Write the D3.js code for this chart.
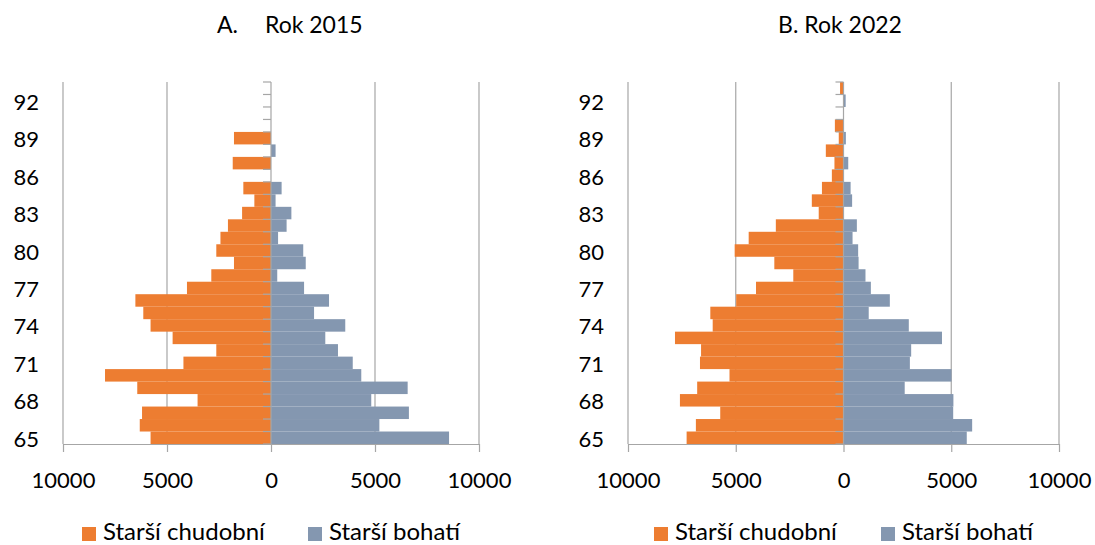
<!DOCTYPE html>
<html>
<head>
<meta charset="utf-8">
<script src="https://cdn.jsdelivr.net/npm/d3@7"></script>
<style>
  html, body { margin: 0; padding: 0; background: #fff; }
  svg { display: block; font-family: Lato, "Open Sans", sans-serif; }
</style>
</head>
<body>
<svg id="chart" width="1095" height="545"></svg>
<script>
// ---- Data ----
const ages = [65, 66, 67, 68, 69, 70, 71, 72, 73, 74, 75, 76, 77, 78, 79,
              80, 81, 82, 83, 84, 85, 86, 87, 88, 89, 90, 91, 92, 93];
const ageLabels = [65, 68, 71, 74, 77, 80, 83, 86, 89, 92];
const xTicks = [-10000, -5000, 0, 5000, 10000];
const seriesNames = ["Starší chudobní", "Starší bohatí"];
const panelTitles = ["A.", "Rok 2015", "B. Rok 2022"];

const poor2015 = [5790, 6310, 6200, 3530, 6430, 7980, 4210, 2630, 4730, 5790,
                  6140, 6520, 4040, 2870, 1780, 2630, 2430, 2070, 1390, 800,
                  1330, 0, 1840, 0, 1780, 0, 0, 0, 0];
const rich2015 = [8560, 5210, 6630, 4820, 6570, 4340, 3930, 3220, 2610, 3570,
                  2070, 2790, 1590, 300, 1670, 1550, 340, 750, 980, 220,
                  510, 0, 0, 220, 0, 0, 0, 0, 0];
const poor2022 = [7280, 6850, 5720, 7590, 6790, 5290, 6660, 6610, 7820, 6070,
                  6180, 4980, 4060, 2330, 3210, 5050, 4400, 3140, 1150, 1470,
                  1000, 540, 420, 820, 220, 400, 0, 0, 160];
const rich2022 = [5720, 5970, 5090, 5100, 2840, 5010, 3080, 3140, 4570, 3030,
                  1170, 2150, 1270, 1020, 700, 680, 420, 620, 0, 400,
                  330, 0, 220, 0, 110, 0, 0, 100, 0];

// ---- Styles ----
const COLORS = ["#ED7D31", "#8497B0"];
const GRID = "#A6A6A6";
const FONT = 22;

const svg = d3.select("#chart");

const panels = [
  { poor: poor2015, rich: rich2015, x0: 63, x1: 479 },
  { poor: poor2022, rich: rich2022, x0: 628, x1: 1059 }
];
const plotTop = 82, plotBottom = 444;

const y = d3.scaleBand()
  .domain(ages.slice().reverse())
  .range([plotTop, plotBottom])
  .padding(0);

panels.forEach((p, pi) => {
  const g = svg.append("g");
  const x = d3.scaleLinear().domain([-10000, 10000]).range([p.x0, p.x1]);

  // vertical gridlines (non-zero)
  g.selectAll("line.grid")
    .data(xTicks.filter(d => d !== 0))
    .join("line")
    .attr("class", "grid")
    .attr("x1", d => x(d)).attr("x2", d => x(d))
    .attr("y1", plotTop).attr("y2", plotBottom)
    .attr("stroke", GRID).attr("stroke-width", 1.2);

  // bars - poor (left)
  g.selectAll("rect.poor")
    .data(ages.map((a, i) => ({ age: a, v: p.poor[i] })).filter(d => d.v > 0))
    .join("rect")
    .attr("class", "poor")
    .attr("x", d => x(-d.v))
    .attr("width", d => x(0) - x(-d.v))
    .attr("y", d => y(d.age))
    .attr("height", y.bandwidth())
    .attr("fill", COLORS[0]);

  // bars - rich (right)
  g.selectAll("rect.rich")
    .data(ages.map((a, i) => ({ age: a, v: p.rich[i] })).filter(d => d.v > 0))
    .join("rect")
    .attr("class", "rich")
    .attr("x", x(0))
    .attr("width", d => x(d.v) - x(0))
    .attr("y", d => y(d.age))
    .attr("height", y.bandwidth())
    .attr("fill", COLORS[1]);

  // vertical axis at zero with ticks at band boundaries
  g.append("line")
    .attr("x1", x(0)).attr("x2", x(0))
    .attr("y1", plotTop).attr("y2", plotBottom)
    .attr("stroke", GRID).attr("stroke-width", 1.2);
  const boundaries = ages.map(a => y(a)).concat([plotBottom]);
  g.selectAll("line.ytick")
    .data(boundaries)
    .join("line")
    .attr("class", "ytick")
    .attr("x1", x(0) - 8).attr("x2", x(0))
    .attr("y1", d => d).attr("y2", d => d)
    .attr("stroke", GRID).attr("stroke-width", 1.2);

  // y labels
  g.selectAll("text.ylab")
    .data(ageLabels)
    .join("text")
    .attr("class", "ylab")
    .attr("x", p.x0 - 24)
    .attr("y", d => y(d) + y.bandwidth() / 2 + 9)
    .attr("text-anchor", "end")
    .attr("font-size", FONT)
    .attr("fill", "#000")
    .text(d => d);

  // bottom axis
  const xAxis = d3.axisBottom(x)
    .tickValues(xTicks)
    .tickSize(8)
    .tickSizeOuter(0)
    .tickPadding(20)
    .tickFormat(d => Math.abs(d));
  const ax = g.append("g")
    .attr("transform", `translate(0,${plotBottom})`)
    .call(xAxis);
  ax.select(".domain").attr("stroke", GRID).attr("stroke-width", 1.2);
  ax.selectAll(".tick line").attr("stroke", GRID).attr("stroke-width", 1.2);
  ax.selectAll(".tick text")
    .attr("font-size", FONT)
    .attr("font-family", "Lato, 'Open Sans', sans-serif")
    .attr("fill", "#000");

  // legend
  const legX = pi === 0 ? [82, 308] : [654, 881];
  seriesNames.forEach((name, si) => {
    g.append("rect")
      .attr("x", legX[si]).attr("y", 527)
      .attr("width", 14).attr("height", 14)
      .attr("fill", COLORS[si]);
    g.append("text")
      .attr("x", legX[si] + 21).attr("y", 540)
      .attr("font-size", FONT + 2)
      .attr("fill", "#000")
      .text(name);
  });
});

// titles
const t1 = svg.append("text").attr("y", 33).attr("font-size", FONT + 1).attr("fill", "#000");
t1.append("tspan").attr("x", 217).text(panelTitles[0]);
t1.append("tspan").attr("x", 265).text(panelTitles[1]);
svg.append("text")
  .attr("x", 840).attr("y", 33)
  .attr("text-anchor", "middle")
  .attr("font-size", FONT + 1).attr("fill", "#000")
  .text(panelTitles[2]);
</script>
</body>
</html>
